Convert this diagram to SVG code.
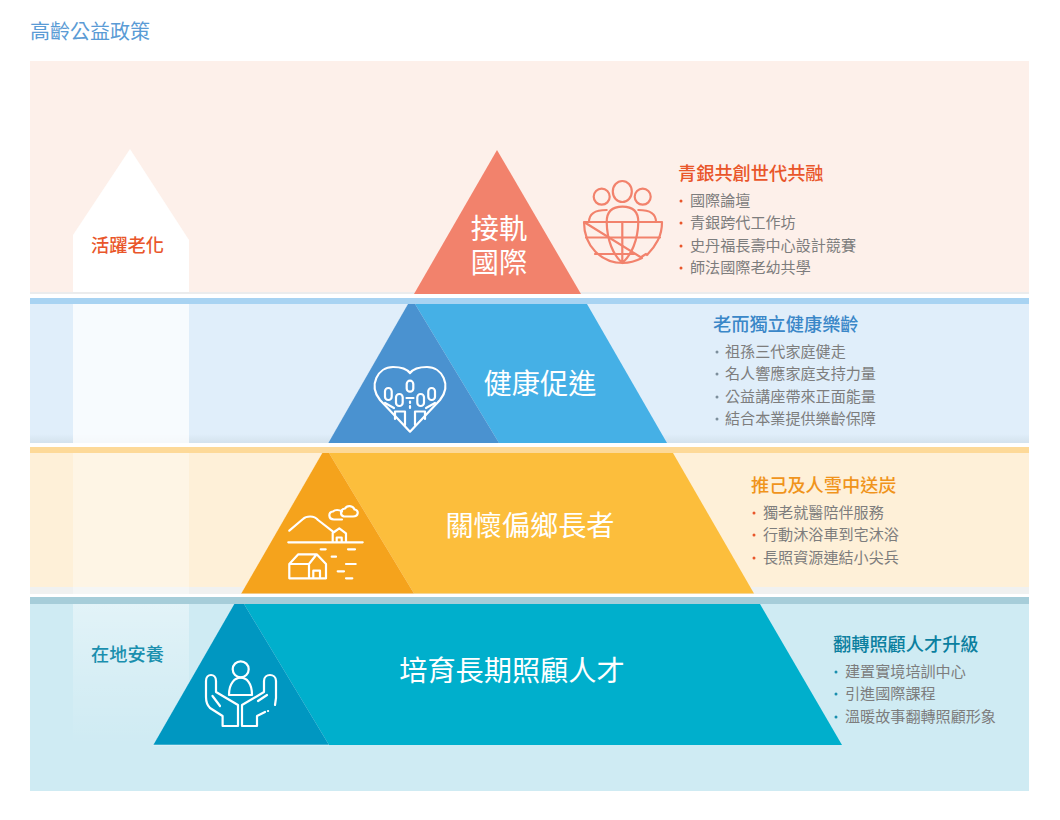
<svg xmlns="http://www.w3.org/2000/svg" width="1060" height="820" viewBox="0 0 1060 820">
<defs>
<linearGradient id="fade" x1="0" y1="0" x2="0" y2="1">
<stop offset="0" stop-color="#fff" stop-opacity="0.4"/><stop offset="0.5" stop-color="#fff" stop-opacity="0.18"/><stop offset="1" stop-color="#fff" stop-opacity="0"/>
</linearGradient>
<linearGradient id="shadow" x1="0" y1="0" x2="0" y2="1"><stop offset="0" stop-color="#8a9aa0" stop-opacity="0"/><stop offset="1" stop-color="#8a9aa0" stop-opacity="0.14"/></linearGradient>
</defs>
<style>
text{font-family:"Noto Sans CJK TC","Noto Sans CJK SC",sans-serif}
.h{font-size:18.200px;font-weight:500}
.li{font-size:15.100px;fill:#7d7d7d}
.big{fill:#fff;font-size:28.200px;text-anchor:middle}
.side{font-size:18.200px;text-anchor:middle;font-weight:500}
.ic{fill:none;stroke:#fff;stroke-width:2.200;stroke-linecap:round;stroke-linejoin:round}
.edge{stroke:#fff;stroke-opacity:.6;stroke-width:.8;fill:none}
</style>
<rect width="1060" height="820" fill="#fff"/>
<text x="30" y="38.500" font-size="20" fill="#5a9bd5">高齡公益政策</text>
<g id="bands">
<rect x="30" y="61" width="999" height="231" fill="#fdf0ea"/>
<rect x="30" y="292" width="999" height="2" fill="#ebeced"/>
<rect x="30" y="298" width="999" height="6" fill="#a8d3f2"/>
<rect x="30" y="304" width="999" height="139" fill="#e0eefa"/>
<rect x="30" y="434" width="999" height="9" fill="url(#shadow)"/>
<rect x="30" y="447" width="999" height="6" fill="#fdd998"/>
<rect x="30" y="453" width="999" height="141" fill="#fef0d8"/>
<rect x="30" y="587" width="999" height="7" fill="#f0f1f0"/>
<rect x="30" y="597" width="999" height="7" fill="#a6cdd9"/>
<rect x="30" y="604" width="999" height="187" fill="#cfebf3"/>
</g>
<g id="arrow">
<path d="M130 149L189 240V292H73V235Z" fill="#fff"/>
<path d="M73 304H189V443H73Z" fill="#fff" fill-opacity="0.75"/>
<path d="M73 453H189V594H73Z" fill="#fff" fill-opacity="0.35"/>
<path d="M73 604H189V745H73Z" fill="url(#fade)"/>
<text class="side" x="127.500" y="251.500" fill="#e9562a">活躍老化</text>
<text class="side" x="127.500" y="661" fill="#1a8fae">在地安養</text>
</g>
<g id="node-international">
<path d="M497 150L581 294H414Z" fill="#f2826c"/>
<text class="big"><tspan x="499" y="239">接軌</tspan><tspan x="499" y="273">國際</tspan></text>
<g fill="none" stroke="#f2826c" stroke-width="2.200" stroke-linecap="round" stroke-linejoin="round">
<circle cx="601.700" cy="196.700" r="8"/><ellipse cx="622.300" cy="191.500" rx="9.500" ry="10.500"/><circle cx="642.700" cy="196.700" r="8"/>
<path d="M584 222H662C662 228 661 234 658 240C655 246 651 251 647 255M642 258C636 261 630 263 623 263C601 263 584 246 584 222Z"/>
<path d="M606.700 222C606.700 212 612 206.700 622.500 206.700C633 206.700 638.300 212 638.300 222M589 222C589 214 594 210 606.700 210M656 222C656 214 651 210 638.300 210"/>
<path d="M606.700 222C607 240 613 255 622.300 263C631.500 255 638 240 638.300 222M622.300 222V263M586 237.500H660M595 254H634"/>
<path d="M642 256.500L646 254"/>
</g>
<text class="h" x="678" y="179.500" fill="#e9562a">青銀共創世代共融</text>
<g><text class="li" x="690" y="206">國際論壇</text><text class="li" x="690" y="228">青銀跨代工作坊</text><text class="li" x="690" y="251">史丹福長壽中心設計競賽</text><text class="li" x="690" y="273">師法國際老幼共學</text></g>
<g fill="#e9562a"><circle cx="681" cy="201" r="1.500"/><circle cx="681" cy="223" r="1.500"/><circle cx="681" cy="246" r="1.500"/><circle cx="681" cy="268" r="1.500"/></g>
</g>
<g id="node-health">
<path d="M415 304H587L667 443H499Z" fill="#45b0e6"/>
<path d="M407.700 304H415L499 443H328Z" fill="#4a92d0"/>
<path class="edge" d="M407.700 304L328 443"/>
<text class="big" x="540" y="394">健康促進</text>
<g class="ic">
<path d="M410 431.700L380 400C368 385 378 367 393 367C401 367 407 369 410 373C413 369 419 367 427 367C442 367 452 385 440 400Z"/>
<rect x="406.700" y="380.700" width="6.600" height="11" rx="3.300"/><rect x="385" y="388" width="6.700" height="12" rx="3.300"/><rect x="396" y="394" width="6.700" height="12" rx="3.300"/><rect x="417.300" y="394" width="6.700" height="12" rx="3.300"/><rect x="428.300" y="388" width="6.700" height="12" rx="3.300"/>
<path d="M385 403L394 408M435 403L426 408M395 419V411.500L405 411.500V425M425 419V411.500L415 411.500V425M406.500 398H413.500M410 401.500V403M410 406V408"/>
</g>
<text class="h" x="713" y="330.500" fill="#3a87c8">老而獨立健康樂齡</text>
<g><text class="li" x="725" y="357">祖孫三代家庭健走</text><text class="li" x="725" y="379">名人響應家庭支持力量</text><text class="li" x="725" y="402">公益講座帶來正面能量</text><text class="li" x="725" y="424">結合本業提供樂齡保障</text></g>
<g fill="#7d8f9c"><circle cx="717" cy="352" r="1.500"/><circle cx="717" cy="374" r="1.500"/><circle cx="717" cy="397" r="1.500"/><circle cx="717" cy="419" r="1.500"/></g>
</g>
<g id="node-rural">
<path d="M329 453H673L754 593.500H414Z" fill="#fcbe3c"/>
<path d="M322 453H329L414 593.500H241Z" fill="#f5a31c"/>
<path class="edge" d="M322 453L241 593.500"/>
<text class="big" x="530" y="536">關懷偏鄉長者</text>
<g class="ic">
<path d="M289.300 530.700L303 519C306 516 314 515 318 520L333 531.700"/>
<path d="M288.300 542.300H362.700M332.700 541.700V533L339.300 528.300L346 533.300V541.700M336.700 541.700V537.500H341.700V541.700"/>
<path d="M342 519.500H334C328 519.500 328 512 333 511.500C335 509.500 339 509.500 342 511.500"/>
<path d="M344 516.500H353C359 516.500 359 510 354.500 509.500C353 505.500 347 505 345 508.500C341 508.500 339 515 344 516.500Z"/>
<path d="M289.300 578.300V564L298.300 554.300H316.700L326 564V578.300ZM289.300 564H309L316.700 554.300M309 564V578.300M313.300 578.300V570.700H320V578.300"/>
<path d="M320.700 549.300H325.700M348 549.300H355M331.700 556.700H336M346 564H355.700M337.700 571.300H344M346 578.300H352.300"/>
</g>
<text class="h" x="751" y="491.500" fill="#f0941c">推己及人雪中送炭</text>
<g><text class="li" x="763" y="518">獨老就醫陪伴服務</text><text class="li" x="763" y="540">行動沐浴車到宅沐浴</text><text class="li" x="763" y="563">長照資源連結小尖兵</text></g>
<g fill="#e9562a"><circle cx="754" cy="513" r="1.500"/><circle cx="754" cy="535" r="1.500"/><circle cx="754" cy="558" r="1.500"/></g>
</g>
<g id="node-talent">
<path d="M244 604H760L842 745H329Z" fill="#00afcc"/>
<path d="M234 604H244L329 745H153Z" fill="#0097c1"/>
<path class="edge" d="M234 604L153 745H329"/>
<text class="big" x="512" y="681">培育長期照顧人才</text>
<g class="ic">
<circle cx="240.700" cy="669.300" r="8"/>
<path d="M229 695C229 683 235 677.700 240.700 677.700C246.500 677.700 252 683 252 695Z"/>
<path d="M238 726H222.600V716L210 708C207 705 206 701 206 697V681C206 673 216 673 216 681V692L238 705V726M212.500 696L220 706"/>
<path d="M242 726H257V716L265 712M268 711H268.100M242 726V705L264 692V681C264 673 276 673 276 681V698L275 705M258 701L267 695"/>
</g>
<text class="h" x="833" y="650.500" fill="#0b7f9f">翻轉照顧人才升級</text>
<g><text class="li" x="845" y="677">建置實境培訓中心</text><text class="li" x="845" y="699">引進國際課程</text><text class="li" x="845" y="722">溫暖故事翻轉照顧形象</text></g>
<g fill="#1a8fae"><circle cx="836" cy="672" r="1.500"/><circle cx="836" cy="694" r="1.500"/><circle cx="836" cy="717" r="1.500"/></g>
</g>
</svg>
